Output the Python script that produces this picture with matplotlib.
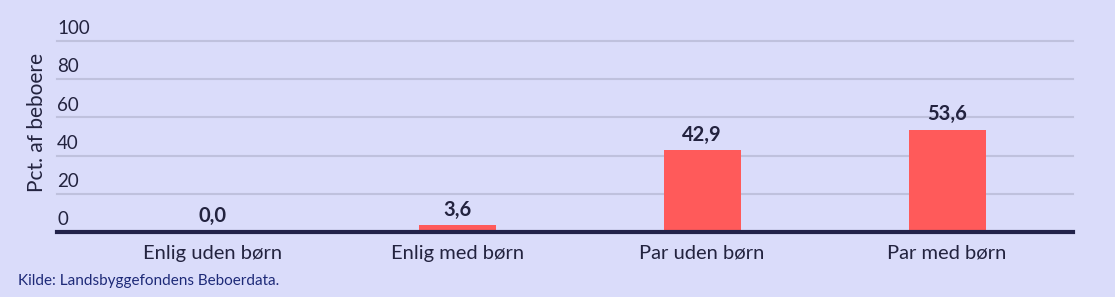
import matplotlib.pyplot as plt
import matplotlib.transforms as mtransforms

categories = ['Enlig uden børn', 'Enlig med børn', 'Par uden børn', 'Par med børn']
values = [0.0, 3.6, 42.9, 53.6]
value_labels = ['0,0', '3,6', '42,9', '53,6']
yticks = [0, 20, 40, 60, 80, 100]

bg = '#dadcfa'
ink = '#23233f'
plt.rcParams['font.family'] = ['Lato', 'DejaVu Sans']

fig = plt.figure(figsize=(11.15, 2.97), dpi=100, facecolor=bg)
ax = fig.add_axes([57 / 1115, 65 / 297, 1016 / 1115, 191 / 297])
ax.set_facecolor(bg)

x = list(range(len(categories)))
ax.bar(x, values, width=0.314, color='#ff5a5a', zorder=3)

for xi, v, lab in zip(x, values, value_labels):
    ax.annotate(lab, (xi, v), xytext=(0, 4), textcoords='offset points',
                ha='center', va='bottom', fontsize=14.5, fontweight='bold',
                color=ink)

# grid lines with labels sitting above them
trans = mtransforms.blended_transform_factory(ax.transAxes, ax.transData)
for t in yticks:
    if t > 0:
        ax.axhline(t, color='#bfc1dd', lw=1.5, zorder=1, clip_on=False)
    ax.text(0, t + 2.0, str(t), transform=trans, ha='left', va='bottom',
            fontsize=13.5, color=ink)
ax.axhline(0, color='#22224a', lw=3, zorder=4, clip_on=False)

ax.set_xlim(-0.633, 3.514)
ax.set_ylim(0, 100)
ax.set_yticks([])
ax.set_xticks(x)
ax.set_xticklabels(categories, fontsize=14.5, color=ink)
ax.tick_params(axis='x', length=0, pad=9)
for s in ax.spines.values():
    s.set_visible(False)

fig.text(37 / 1115, 1 - 122 / 297, 'Pct. af beboere', rotation=90,
         ha='center', va='center', fontsize=15, color=ink)
fig.text(18 / 1115, 1 - 281 / 297, 'Kilde: Landsbyggefondens Beboerdata.',
         ha='left', va='center', fontsize=11, color='#1e2a78')

fig.savefig('out.png', dpi=100, facecolor=bg)
